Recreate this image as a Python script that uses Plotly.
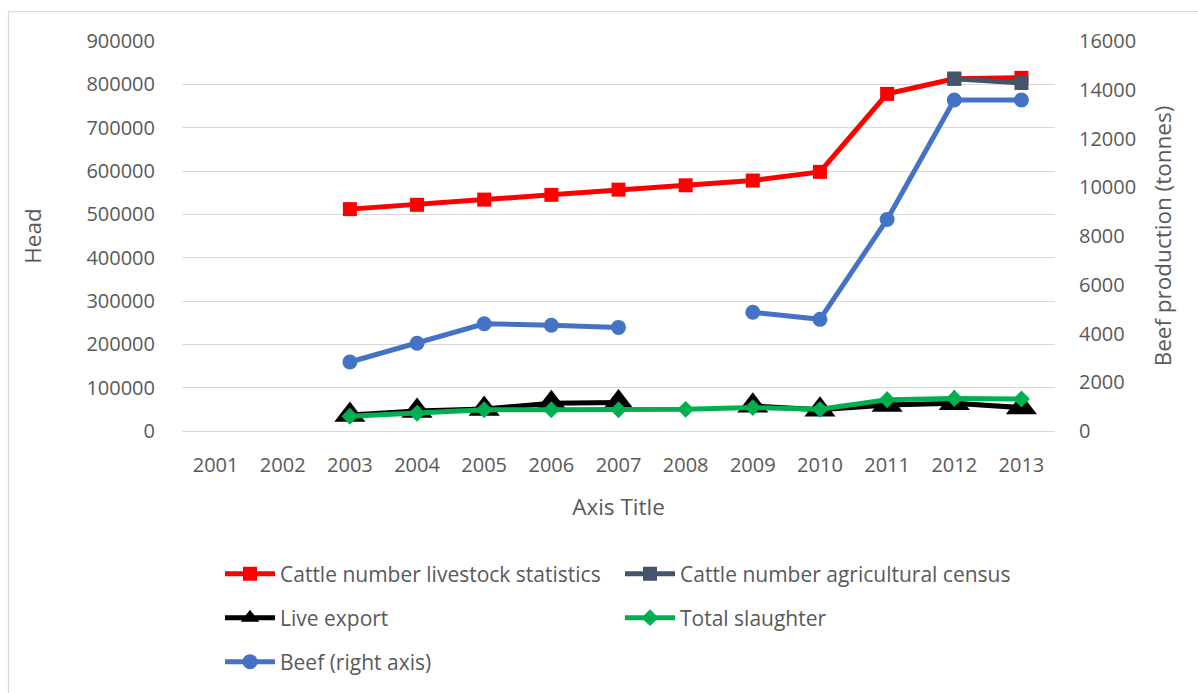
import plotly.graph_objects as go

years = [str(y) for y in range(2001, 2014)]
cattle_stats = [None, None, 512000, 522000, 534000, 545000, 557000, 567000, 578000, 598000, 778000, 813000, 815000]
cattle_census = [None, None, None, None, None, None, None, None, None, None, None, 813000, 803000]
live_export = [None, None, 37000, 46000, 51000, 64000, 66000, None, 58000, 49000, 60000, 64000, 54000]
total_slaughter = [None, None, 34000, 41000, 49000, 49000, 49000, 50000, 54000, 50000, 72000, 75000, 74000]
beef = [None, None, 2830, 3600, 4400, 4340, 4250, None, 4870, 4580, 8680, 13580, 13580]

W, H = 1198, 693
ML, MR, MT, MB = 182, 143, 41, 261
PW = W - ML - MR
PH = H - MT - MB
GREY = "#595959"
FONT = "Open Sans"

def px(x):
    return (x - ML) / PW

def py(y):
    return (H - MB - y) / PH

fig = go.Figure()
fig.add_trace(go.Scatter(x=years, y=cattle_stats, name="Cattle number livestock statistics",
                         mode="lines+markers", line=dict(color="#FF0000", width=5),
                         marker=dict(symbol="square", size=14, color="#FF0000"), legend="legend"))
fig.add_trace(go.Scatter(x=years, y=cattle_census, name="Cattle number agricultural census",
                         mode="lines+markers", line=dict(color="#44546A", width=5),
                         marker=dict(symbol="square", size=14, color="#44546A"), legend="legend"))
fig.add_trace(go.Scatter(x=years, y=live_export, name="Live export",
                         mode="lines+markers", line=dict(color="#000000", width=5),
                         marker=dict(symbol="triangle-up", size=27, color="#000000"), legend="legend2"))
fig.add_trace(go.Scatter(x=years, y=total_slaughter, name="Total slaughter",
                         mode="lines+markers", line=dict(color="#00B050", width=5),
                         marker=dict(symbol="diamond", size=13, color="#00B050"), legend="legend2"))
fig.add_trace(go.Scatter(x=years, y=beef, name="Beef (right axis)", yaxis="y2",
                         mode="lines+markers", line=dict(color="#4472C4", width=5),
                         marker=dict(symbol="circle", size=15, color="#4472C4"), legend="legend3"))

leg_common = dict(orientation="h", xanchor="left", yanchor="middle", x=px(220),
                  font=dict(family=FONT, size=21, color=GREY), entrywidth=335,
                  bgcolor="rgba(0,0,0,0)", itemwidth=50)

fig.update_layout(
    width=W, height=H,
    margin=dict(l=ML, r=MR, t=MT, b=MB),
    paper_bgcolor="white", plot_bgcolor="white",
    font=dict(family=FONT, size=20, color=GREY),
    legend=dict(leg_common, y=py(574)),
    legend2=dict(leg_common, y=py(618)),
    legend3=dict(leg_common, y=py(662)),
    xaxis=dict(type="category", categoryorder="array", categoryarray=years, range=[-0.5, 12.5],
               showgrid=False, showline=False, ticks="", ticklabelstandoff=20,
               tickfont=dict(size=20, color=GREY),
               title=dict(text="Axis Title", font=dict(size=22.5, color=GREY), standoff=22)),
    yaxis=dict(range=[0, 900000], dtick=100000, tickformat="d", showgrid=True,
               gridcolor="#D9D9D9", gridwidth=1.3, zeroline=True, zerolinecolor="#D9D9D9",
               zerolinewidth=1.3, showline=False, ticks="", ticklabelstandoff=26,
               tickfont=dict(size=20, color=GREY),
               title=dict(text="Head", font=dict(size=22.5, color=GREY), standoff=38)),
    yaxis2=dict(range=[0, 16000], dtick=2000, tickformat="d", overlaying="y", side="right",
                showgrid=False, zeroline=False, showline=False, ticks="", ticklabelstandoff=23,
                tickfont=dict(size=20, color=GREY),
                title=dict(text="Beef production (tonnes)", font=dict(size=22.5, color=GREY), standoff=20)),
    shapes=[dict(type="rect", xref="paper", yref="paper", x0=px(8.5), x1=px(1210), y0=py(710), y1=py(11.5),
                 line=dict(color="#D9D9D9", width=1.3), layer="below")],
)

fig.write_html("out.html")
